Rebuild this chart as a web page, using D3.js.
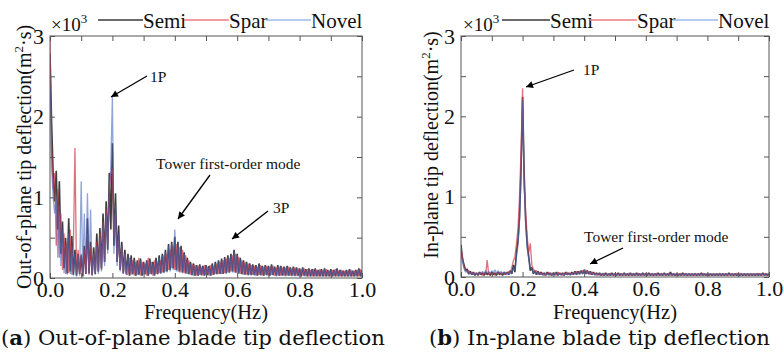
<!DOCTYPE html>
<html><head><meta charset="utf-8">
<script src="https://cdn.jsdelivr.net/npm/d3@7/dist/d3.min.js"></script>
<style>body{margin:0;background:#fff}svg{display:block}</style>
</head><body>
<svg id="c" width="784" height="363"></svg>
<script>
// Frequency grid (Hz)
const freq = [
0,.005,.01,.015,.02,.025,.03,.035,.04,.045,
.05,.055,.06,.065,.07,.075,.08,.085,.09,.095,
.1,.105,.11,.115,.12,.125,.13,.135,.14,.145,
.15,.155,.16,.165,.17,.175,.18,.185,.19,.195,
.2,.205,.21,.215,.22,.225,.23,.235,.24,.245,
.25,.255,.26,.265,.27,.275,.28,.285,.29,.295,
.3,.305,.31,.315,.32,.325,.33,.335,.34,.345,
.35,.355,.36,.365,.37,.375,.38,.385,.39,.395,
.4,.405,.41,.415,.42,.425,.43,.435,.44,.445,
.45,.455,.46,.465,.47,.475,.48,.485,.49,.495,
.5,.505,.51,.515,.52,.525,.53,.535,.54,.545,
.55,.555,.56,.565,.57,.575,.58,.585,.59,.595,
.6,.605,.61,.615,.62,.625,.63,.635,.64,.645,
.65,.655,.66,.665,.67,.675,.68,.685,.69,.695,
.7,.705,.71,.715,.72,.725,.73,.735,.74,.745,
.75,.755,.76,.765,.77,.775,.78,.785,.79,.795,
.8,.805,.81,.815,.82,.825,.83,.835,.84,.845,
.85,.855,.86,.865,.87,.875,.88,.885,.89,.895,
.9,.905,.91,.915,.92,.925,.93,.935,.94,.945,
.95,.955,.96,.965,.97,.975,.98,.985,.99,.995,
1.0];

const seriesNames = ["Semi", "Spar", "Novel"];

// (a) Out-of-plane, values x10^3
const semiOut = [
2.78,1.95,1.30,0.95,1.33,0.60,1.20,0.30,0.70,0.12,
0.50,0.06,0.74,0.08,0.52,0.04,0.35,0.03,0.30,0.05,
0.28,0.02,0.40,0.05,0.74,0.06,0.45,0.04,0.38,0.05,
0.55,0.08,0.62,0.12,0.80,0.20,0.95,0.35,1.30,0.60,
1.67,0.40,1.05,0.20,0.65,0.10,0.45,0.06,0.35,0.05,
0.30,0.03,0.28,0.05,0.25,0.03,0.22,0.04,0.24,0.03,
0.20,0.05,0.22,0.03,0.24,0.05,0.20,0.03,0.25,0.05,
0.28,0.06,0.30,0.07,0.35,0.08,0.42,0.10,0.45,0.12,
0.51,0.10,0.45,0.08,0.40,0.07,0.32,0.06,0.25,0.05,
0.20,0.04,0.18,0.03,0.16,0.03,0.17,0.04,0.15,0.03,
0.16,0.04,0.15,0.03,0.18,0.04,0.20,0.05,0.22,0.05,
0.24,0.05,0.26,0.06,0.28,0.07,0.30,0.08,0.35,0.07,
0.30,0.06,0.25,0.05,0.22,0.04,0.20,0.04,0.18,0.04,
0.17,0.04,0.16,0.03,0.18,0.04,0.15,0.03,0.16,0.04,
0.15,0.03,0.17,0.04,0.14,0.03,0.16,0.03,0.15,0.03,
0.14,0.03,0.15,0.03,0.13,0.03,0.14,0.03,0.13,0.03,
0.12,0.02,0.13,0.03,0.11,0.02,0.12,0.02,0.11,0.02,
0.12,0.02,0.10,0.02,0.11,0.02,0.12,0.02,0.10,0.02,
0.11,0.02,0.10,0.02,0.12,0.02,0.10,0.02,0.09,0.02,
0.10,0.02,0.11,0.02,0.09,0.02,0.10,0.02,0.12,0.02,
0.10];
const sparOut = [
2.95,1.60,1.10,1.30,0.40,1.10,0.25,0.80,0.10,0.55,
0.05,0.45,0.06,0.60,0.04,0.40,1.61,0.06,0.35,0.03,
0.30,0.04,0.35,0.05,0.55,0.04,0.40,0.03,0.30,0.06,
0.45,0.08,0.55,0.10,0.70,0.20,0.85,0.40,1.10,1.30,
1.35,0.50,0.80,0.20,0.50,0.10,0.40,0.06,0.30,0.04,
0.05,0.25,0.04,0.22,0.03,0.20,0.04,0.25,0.03,0.20,
0.04,0.18,0.03,0.25,0.05,0.20,0.03,0.22,0.05,0.20,
0.06,0.22,0.07,0.28,0.08,0.30,0.10,0.35,0.12,0.40,
0.10,0.42,0.08,0.38,0.07,0.35,0.06,0.28,0.05,0.22,
0.04,0.18,0.03,0.16,0.03,0.15,0.04,0.14,0.03,0.16,
0.04,0.14,0.03,0.16,0.04,0.15,0.05,0.18,0.05,0.20,
0.05,0.22,0.06,0.24,0.07,0.25,0.08,0.28,0.07,0.30,
0.06,0.26,0.05,0.22,0.04,0.20,0.04,0.18,0.04,0.16,
0.04,0.15,0.03,0.14,0.04,0.16,0.03,0.14,0.04,0.15,
0.03,0.14,0.04,0.15,0.03,0.13,0.03,0.14,0.03,0.13,
0.03,0.13,0.03,0.14,0.03,0.12,0.03,0.13,0.03,0.12,
0.02,0.11,0.03,0.12,0.02,0.11,0.02,0.10,0.02,0.11,
0.02,0.10,0.02,0.11,0.02,0.10,0.02,0.11,0.02,0.09,
0.02,0.10,0.02,0.11,0.02,0.09,0.02,0.10,0.02,0.09,
0.02,0.09,0.02,0.10,0.02,0.09,0.02,0.10,0.02,0.11,
0.02];
const novelOut = [
2.50,1.40,1.00,0.80,1.00,0.25,0.90,0.15,0.60,0.06,
0.40,0.04,0.55,0.05,0.40,0.03,0.30,0.02,0.28,0.05,
1.20,0.03,0.80,0.06,1.05,0.05,0.85,0.03,0.30,0.04,
0.40,0.05,0.50,0.08,0.65,0.15,0.80,0.30,1.10,1.40,
2.26,0.30,0.90,0.15,0.55,0.08,0.40,0.05,0.30,0.04,
0.26,0.03,0.24,0.04,0.22,0.03,0.20,0.04,0.21,0.03,
0.18,0.04,0.20,0.03,0.22,0.04,0.18,0.03,0.22,0.04,
0.25,0.05,0.28,0.06,0.32,0.07,0.40,0.08,0.42,0.10,
0.60,0.08,0.42,0.07,0.36,0.06,0.30,0.05,0.22,0.04,
0.18,0.03,0.16,0.03,0.15,0.03,0.15,0.03,0.14,0.03,
0.15,0.03,0.14,0.03,0.16,0.04,0.18,0.04,0.20,0.05,
0.22,0.05,0.24,0.05,0.26,0.06,0.28,0.07,0.33,0.06,
0.28,0.05,0.23,0.04,0.20,0.04,0.18,0.03,0.16,0.03,
0.15,0.03,0.15,0.03,0.16,0.03,0.14,0.03,0.15,0.03,
0.14,0.03,0.15,0.03,0.13,0.02,0.14,0.03,0.14,0.03,
0.13,0.02,0.14,0.03,0.12,0.02,0.13,0.02,0.12,0.02,
0.11,0.02,0.12,0.02,0.10,0.02,0.11,0.02,0.10,0.02,
0.11,0.02,0.09,0.02,0.10,0.02,0.11,0.02,0.09,0.02,
0.10,0.02,0.09,0.02,0.11,0.02,0.09,0.02,0.08,0.02,
0.09,0.02,0.10,0.02,0.08,0.02,0.09,0.02,0.11,0.02,
0.09];

// (b) In-plane, values x10^3
const semiIn = [
0.40,0.22,0.15,0.08,0.10,0.04,0.07,0.03,0.06,0.02,
0.05,0.02,0.06,0.03,0.05,0.02,0.06,0.03,0.05,0.02,
0.06,0.03,0.05,0.02,0.06,0.03,0.05,0.02,0.06,0.03,
0.06,0.03,0.08,0.04,0.15,0.06,0.30,0.45,0.75,1.35,
2.24,1.30,0.70,0.40,0.25,0.08,0.12,0.04,0.08,0.03,
0.07,0.03,0.06,0.03,0.05,0.02,0.06,0.03,0.05,0.02,
0.05,0.03,0.06,0.02,0.05,0.03,0.05,0.02,0.06,0.03,
0.05,0.03,0.06,0.03,0.07,0.03,0.07,0.04,0.08,0.04,
0.09,0.04,0.08,0.04,0.07,0.03,0.06,0.03,0.05,0.03,
0.05,0.02,0.04,0.02,0.05,0.02,0.04,0.02,0.05,0.02,
0.04,0.02,0.05,0.02,0.04,0.02,0.05,0.02,0.04,0.02,
0.05,0.02,0.04,0.02,0.05,0.02,0.04,0.02,0.05,0.02,
0.04,0.02,0.05,0.02,0.04,0.02,0.04,0.02,0.05,0.02,
0.04,0.02,0.05,0.02,0.04,0.02,0.06,0.02,0.04,0.02,
0.04,0.02,0.04,0.02,0.05,0.02,0.04,0.02,0.04,0.02,
0.04,0.02,0.04,0.02,0.04,0.02,0.05,0.02,0.04,0.02,
0.04,0.02,0.04,0.02,0.04,0.02,0.04,0.02,0.04,0.02,
0.04,0.02,0.04,0.02,0.05,0.02,0.04,0.02,0.04,0.02,
0.04,0.02,0.04,0.02,0.04,0.02,0.04,0.02,0.04,0.02,
0.04,0.02,0.04,0.02,0.04,0.02,0.05,0.02,0.04,0.02,
0.04];
const sparIn = [
0.35,0.25,0.12,0.10,0.06,0.08,0.04,0.06,0.03,0.05,
0.03,0.05,0.03,0.06,0.02,0.05,0.03,0.21,0.03,0.05,
0.03,0.06,0.02,0.05,0.04,0.06,0.03,0.05,0.03,0.06,
0.04,0.07,0.05,0.12,0.20,0.25,0.42,0.60,1.00,1.60,
2.35,1.10,0.80,0.50,0.30,0.42,0.15,0.10,0.06,0.08,
0.03,0.06,0.03,0.05,0.02,0.05,0.03,0.06,0.02,0.05,
0.03,0.05,0.02,0.06,0.03,0.05,0.02,0.05,0.03,0.06,
0.03,0.05,0.03,0.06,0.04,0.07,0.04,0.07,0.05,0.08,
0.05,0.09,0.04,0.07,0.03,0.06,0.03,0.05,0.02,0.05,
0.02,0.04,0.02,0.05,0.02,0.04,0.02,0.05,0.02,0.04,
0.02,0.04,0.02,0.05,0.02,0.04,0.02,0.04,0.02,0.05,
0.02,0.04,0.02,0.04,0.02,0.05,0.02,0.04,0.02,0.04,
0.02,0.05,0.02,0.04,0.02,0.04,0.02,0.05,0.02,0.04,
0.02,0.04,0.02,0.04,0.02,0.05,0.02,0.04,0.02,0.04,
0.02,0.04,0.02,0.05,0.02,0.04,0.02,0.04,0.02,0.04,
0.02,0.04,0.02,0.04,0.02,0.04,0.02,0.05,0.02,0.04,
0.02,0.04,0.02,0.04,0.02,0.04,0.02,0.04,0.02,0.04,
0.02,0.04,0.02,0.04,0.02,0.04,0.02,0.04,0.02,0.05,
0.02,0.04,0.02,0.04,0.02,0.04,0.02,0.04,0.02,0.04,
0.02,0.04,0.02,0.05,0.02,0.04,0.02,0.04,0.02,0.04,
0.03];
const novelIn = [
0.30,0.18,0.10,0.06,0.08,0.03,0.06,0.03,0.05,0.02,
0.05,0.03,0.06,0.04,0.07,0.04,0.08,0.05,0.07,0.04,
0.08,0.05,0.09,0.04,0.08,0.05,0.07,0.04,0.06,0.03,
0.05,0.03,0.07,0.04,0.12,0.08,0.25,0.40,0.70,1.25,
2.20,1.20,0.65,0.35,0.22,0.12,0.10,0.05,0.07,0.03,
0.06,0.03,0.05,0.02,0.05,0.03,0.04,0.02,0.05,0.02,
0.05,0.02,0.05,0.03,0.04,0.02,0.05,0.02,0.05,0.03,
0.04,0.02,0.05,0.03,0.06,0.03,0.06,0.03,0.07,0.04,
0.08,0.04,0.07,0.03,0.06,0.03,0.05,0.02,0.05,0.02,
0.04,0.02,0.05,0.02,0.04,0.02,0.04,0.02,0.04,0.02,
0.05,0.02,0.04,0.02,0.04,0.02,0.05,0.02,0.04,0.02,
0.04,0.02,0.05,0.02,0.04,0.02,0.04,0.02,0.05,0.02,
0.04,0.02,0.04,0.02,0.05,0.02,0.04,0.02,0.04,0.02,
0.05,0.02,0.04,0.02,0.04,0.02,0.04,0.02,0.05,0.02,
0.04,0.02,0.04,0.02,0.04,0.02,0.05,0.02,0.04,0.02,
0.04,0.02,0.05,0.02,0.04,0.02,0.04,0.02,0.04,0.02,
0.04,0.02,0.04,0.02,0.04,0.02,0.04,0.02,0.05,0.02,
0.04,0.02,0.04,0.02,0.04,0.02,0.04,0.02,0.04,0.02,
0.04,0.02,0.05,0.02,0.04,0.02,0.04,0.02,0.04,0.02,
0.04,0.02,0.04,0.02,0.04,0.02,0.04,0.02,0.05,0.02,
0.04];

const xTickLabels = [0.0, 0.2, 0.4, 0.6, 0.8, 1.0];
const yTickLabels = [0, 1, 2, 3];

const svg = d3.select("#c");
const SERIF = "'Liberation Serif','Times New Roman',serif";
const lineColors = ["#333333", "#cf3444", "#4468bc"];
const lineOpac = [0.95, 0.7, 0.6];
const lineWidth = [1.6, 1.3, 1.3];
const legendColors = ["#3a3a3a", "#ec7b7f", "#9dbbe6"];

const defs = svg.append("defs");
defs.append("marker").attr("id","arr").attr("viewBox","0 0 10 10")
  .attr("refX",10).attr("refY",5).attr("markerWidth",9).attr("markerHeight",7)
  .attr("markerUnits","userSpaceOnUse").attr("orient","auto")
  .append("path").attr("d","M0,0 L10,5 L0,10 Z").attr("fill","#000");

function panel(cfg) {
  const {x0, x1, y0, y1} = cfg;
  const x = d3.scaleLinear().domain([0, 1]).range([x0, x1]);
  const y = d3.scaleLinear().domain([0, 3]).range([y1, y0]);
  const g = svg.append("g");
  const cid = "clip" + cfg.id;
  defs.append("clipPath").attr("id", cid).append("rect")
    .attr("x", x0).attr("y", y0).attr("width", x1 - x0).attr("height", y1 - y0);

  const line = d3.line().x((d, i) => x(freq[i])).y(d => y(d));
  const lg = g.append("g").attr("clip-path", `url(#${cid})`);
  cfg.series.forEach((s, k) => {
    lg.append("path").datum(s).attr("d", line).attr("fill", "none")
      .attr("stroke", lineColors[k]).attr("stroke-width", lineWidth[k])
      .attr("stroke-opacity", lineOpac[k]).attr("stroke-linejoin","bevel");
  });

  const minorX = d3.range(0, 11).map(i => i / 10);
  const minorY = d3.range(0, 7).map(i => i / 2);
  const fmtX = v => xTickLabels.some(t => Math.abs(t - v) < 1e-9) ? d3.format(".1f")(v) : "";
  const ax = g.append("g").attr("transform", `translate(0,${y1})`)
    .call(d3.axisBottom(x).tickValues(minorX).tickSize(-5).tickPadding(2).tickFormat(fmtX));
  const axT = g.append("g").attr("transform", `translate(0,${y0})`)
    .call(d3.axisTop(x).tickValues(minorX).tickSize(-5).tickFormat(""));
  const fmtY = v => yTickLabels.includes(v) ? String(v) : "";
  const ay = g.append("g").attr("transform", `translate(${x0},0)`)
    .call(d3.axisLeft(y).tickValues(minorY).tickSize(-5).tickPadding(6).tickFormat(fmtY));
  const ayR = g.append("g").attr("transform", `translate(${x1},0)`)
    .call(d3.axisRight(y).tickValues(minorY).tickSize(-5).tickFormat(""));
  [ax, axT, ay, ayR].forEach(a => {
    a.select(".domain").remove();
    a.selectAll("line").attr("stroke", "#555");
    a.selectAll("text").attr("font-family", SERIF).attr("font-size", 22).attr("fill", "#111");
  });
  ax.selectAll("text").attr("dy", "0.76em");
  g.append("rect").attr("x", x0).attr("y", y0).attr("width", x1 - x0).attr("height", y1 - y0)
    .attr("fill", "none").attr("stroke", "#555").attr("stroke-width", 1);

  // x title
  g.append("text").attr("x", (x0 + x1) / 2).attr("y", 319).attr("text-anchor", "middle")
    .attr("font-family", SERIF).attr("font-size", 20.5).attr("fill", "#111").text("Frequency(Hz)");
  // y title
  const yt = g.append("text").attr("transform", `translate(${cfg.ytx},${cfg.yty}) rotate(-90)`)
    .attr("text-anchor", "middle").attr("font-family", SERIF).attr("font-size", 20).attr("fill", "#111");
  yt.append("tspan").text(cfg.ytitle + "(m");
  yt.append("tspan").attr("font-size", 13).attr("dy", -8).text("2");
  yt.append("tspan").attr("dy", 8).text("·s)");

  // exponent + legend
  const ex = g.append("text").attr("x", cfg.exX).attr("y", 31).attr("font-family", SERIF)
    .attr("font-size", 19).attr("fill", "#111");
  ex.append("tspan").text("×10");
  ex.append("tspan").attr("font-size", 13).attr("dy", -8).text("3");
  cfg.legend.forEach((L, k) => {
    g.append("line").attr("x1", L[0]).attr("x2", L[1]).attr("y1", 20).attr("y2", 20)
      .attr("stroke", legendColors[k]).attr("stroke-width", 1.5);
    g.append("text").attr("x", L[1]).attr("y", 27.5).attr("font-family", SERIF)
      .attr("font-size", 21).attr("fill", "#111").text(seriesNames[k]);
  });

  // annotations
  cfg.notes.forEach(n => {
    g.append("text").attr("x", n.tx).attr("y", n.ty).attr("font-family", SERIF)
      .attr("font-size", 15.5).attr("fill", "#111").text(n.t);
    g.append("line").attr("x1", n.a[0]).attr("y1", n.a[1]).attr("x2", n.a[2]).attr("y2", n.a[3])
      .attr("stroke", "#000").attr("stroke-width", 1.3).attr("marker-end", "url(#arr)");
  });

  // caption
  const cap = svg.append("text").attr("x", cfg.capX).attr("y", 345)
    .attr("font-family", "'DejaVu Serif',serif").attr("font-size", 20).attr("fill", "#111");
  cap.append("tspan").text("(");
  cap.append("tspan").attr("font-weight", "bold").text(cfg.capL);
  cap.append("tspan").text(") " + cfg.capT);
  const len = cap.node().getComputedTextLength();
  cap.attr("font-size", 20 * cfg.capW / len);
  cap.selectAll("tspan").attr("font-size", null);
}

panel({
  id: "a", x0: 50, x1: 362, y0: 36, y1: 278,
  series: [semiOut, sparOut, novelOut],
  ytitle: "Out-of-plane tip deflection", ytx: 31, yty: 157,
  exX: 51, legend: [[98, 143], [184, 229], [266, 311]],
  notes: [
    {t: "1P", tx: 150, ty: 82, a: [147, 76, 111, 97]},
    {t: "Tower first-order mode", tx: 156, ty: 169, a: [210, 175, 178, 219]},
    {t: "3P", tx: 273, ty: 213, a: [268, 211, 232, 239]}
  ],
  capX: 1, capW: 384, capL: "a", capT: "Out-of-plane blade tip deflection"
});
panel({
  id: "b", x0: 461, x1: 769, y0: 36, y1: 277,
  series: [semiIn, sparIn, novelIn],
  ytitle: "In-plane tip deflection", ytx: 438, yty: 145,
  exX: 463, legend: [[502, 550], [590, 637], [673, 718]],
  notes: [
    {t: "1P", tx: 583, ty: 75, a: [574, 70, 526, 87]},
    {t: "Tower first-order mode", tx: 584, ty: 242, a: [623, 248, 590, 264]}
  ],
  capX: 429, capW: 341, capL: "b", capT: "In-plane blade tip deflection"
});
</script>
</body></html>
